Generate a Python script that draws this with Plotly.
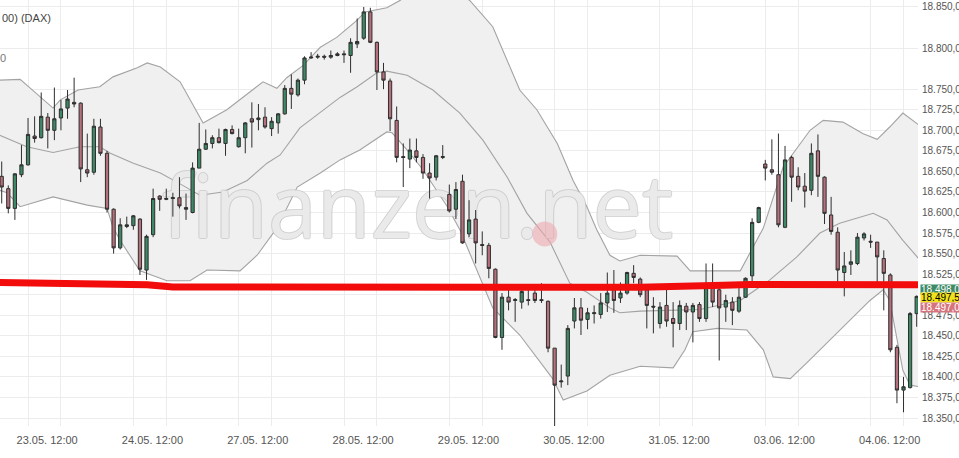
import plotly.graph_objects as go

# ---------------- data ----------------
candle_idx = list(range(140))
opens = [18644, 18629, 18605, 18646, 18658, 18693, 18691, 18716, 18700, 18715,
         18727, 18734, 18733, 18652, 18649, 18704, 18672, 18604, 18557, 18583,
         18584, 18592, 18530, 18573, 18620, 18616, 18617, 18618, 18606, 18600,
         18654, 18677, 18684, 18691, 18684, 18701, 18680, 18691, 18714, 18713,
         18716, 18702, 18709, 18720, 18751, 18743, 18761, 18788, 18789, 18790,
         18789, 18791, 18793, 18791, 18805, 18812, 18844, 18807, 18771, 18760,
         18712, 18668, 18665, 18675, 18667, 18648, 18643, 18667, 18622, 18604,
         18638, 18574, 18592, 18561, 18560, 18531, 18448, 18497, 18493, 18491,
         18494, 18502, 18494, 18492, 18435, 18394, 18401, 18468, 18484, 18470,
         18477, 18476, 18490, 18506, 18496, 18502, 18526, 18519, 18506, 18486,
         18465, 18487, 18471, 18465, 18486, 18479, 18488, 18471, 18514, 18506,
         18485, 18491, 18480, 18497, 18523, 18588, 18659, 18652, 18646, 18582,
         18667, 18644, 18632, 18627, 18675, 18643, 18597, 18576, 18527, 18537,
         18538, 18569, 18565, 18564, 18544, 18524, 18436, 18384, 18387, 18477]
highs = [18662, 18633, 18648, 18682, 18715, 18717, 18746, 18721, 18752, 18737,
         18749, 18764, 18734, 18696, 18714, 18714, 18675, 18605, 18593, 18595,
         18597, 18593, 18573, 18629, 18621, 18629, 18624, 18643, 18623, 18661,
         18709, 18701, 18694, 18702, 18702, 18706, 18702, 18710, 18734, 18732,
         18728, 18716, 18721, 18755, 18768, 18763, 18790, 18795, 18793, 18792,
         18797, 18795, 18797, 18812, 18836, 18850, 18849, 18808, 18782, 18763,
         18729, 18684, 18690, 18690, 18671, 18660, 18670, 18682, 18634, 18637,
         18646, 18615, 18603, 18577, 18563, 18532, 18502, 18508, 18496, 18506,
         18506, 18506, 18514, 18493, 18435, 18415, 18463, 18496, 18496, 18484,
         18487, 18502, 18527, 18530, 18515, 18528, 18536, 18521, 18507, 18497,
         18491, 18506, 18491, 18493, 18490, 18490, 18491, 18538, 18538, 18508,
         18500, 18497, 18508, 18521, 18593, 18607, 18664, 18689, 18696, 18681,
         18669, 18655, 18648, 18684, 18695, 18644, 18619, 18582, 18552, 18554,
         18575, 18576, 18573, 18564, 18554, 18526, 18439, 18400, 18479, 18499]
lows = [18611, 18599, 18591, 18643, 18657, 18685, 18690, 18678, 18688, 18700,
        18714, 18728, 18637, 18643, 18646, 18669, 18600, 18550, 18555, 18581,
        18579, 18524, 18518, 18570, 18602, 18615, 18595, 18605, 18591, 18599,
        18654, 18676, 18678, 18684, 18669, 18695, 18679, 18672, 18679, 18700,
        18702, 18693, 18696, 18719, 18726, 18741, 18756, 18787, 18787, 18786,
        18787, 18790, 18782, 18770, 18800, 18810, 18806, 18749, 18750, 18699,
        18661, 18631, 18654, 18661, 18641, 18617, 18639, 18665, 18600, 18592,
        18562, 18570, 18538, 18548, 18520, 18447, 18433, 18481, 18467, 18483,
        18487, 18490, 18490, 18430, 18338, 18387, 18390, 18459, 18451, 18458,
        18465, 18471, 18479, 18478, 18490, 18500, 18514, 18497, 18459, 18453,
        18459, 18461, 18436, 18457, 18457, 18442, 18467, 18467, 18485, 18420,
        18467, 18463, 18478, 18496, 18515, 18587, 18639, 18646, 18582, 18581,
        18613, 18627, 18606, 18621, 18619, 18586, 18573, 18515, 18498, 18524,
        18536, 18566, 18557, 18514, 18481, 18430, 18368, 18357, 18386, 18461]
closes = [18631, 18605, 18647, 18658, 18695, 18690, 18717, 18700, 18714, 18726,
          18738, 18732, 18653, 18648, 18705, 18672, 18604, 18557, 18585, 18585,
          18596, 18531, 18571, 18617, 18616, 18617, 18618, 18608, 18604, 18654,
          18677, 18684, 18691, 18685, 18701, 18696, 18691, 18709, 18710, 18715,
          18704, 18711, 18720, 18751, 18744, 18761, 18788, 18789, 18790, 18789,
          18791, 18793, 18792, 18807, 18808, 18844, 18807, 18771, 18761, 18714,
          18667, 18667, 18676, 18667, 18648, 18642, 18669, 18668, 18602, 18628,
          18563, 18591, 18563, 18560, 18532, 18448, 18497, 18491, 18494, 18504,
          18493, 18493, 18493, 18435, 18390, 18395, 18459, 18484, 18469, 18478,
          18478, 18490, 18502, 18493, 18502, 18527, 18521, 18500, 18487, 18485,
          18485, 18468, 18465, 18487, 18479, 18487, 18471, 18510, 18491, 18484,
          18493, 18481, 18497, 18520, 18588, 18606, 18654, 18649, 18585, 18664,
          18643, 18631, 18626, 18672, 18644, 18599, 18577, 18530, 18535, 18540,
          18570, 18574, 18564, 18546, 18526, 18433, 18384, 18388, 18477, 18498]

# Bollinger bands (x in candle index units)
upper_x = [-0.3, 2.8, 7.8, 8.9, 11.6, 14.9, 16.9, 20.6, 22.1, 24.1, 27.1, 30.6, 34.2,
           39.7, 41.8, 43.3, 45.8, 48.4, 50.9, 54.0, 55.2, 58.5, 60.5, 63.5, 68.1,
           71.1, 74.6, 78.7, 81.3, 84.4, 86.8, 88.9, 90.4, 92.4, 93.9, 97.0, 102.6,
           104.6, 112.2, 114.1, 115.7, 118.7, 122.8, 124.8, 127.8, 130.8, 133.0,
           134.9, 136.9, 139.4]
upper_y = [18761, 18762, 18727, 18737, 18749, 18753, 18765, 18776, 18782, 18777,
           18759, 18709, 18725, 18759, 18751, 18764, 18779, 18801, 18813, 18834,
           18844, 18849, 18858, 18873, 18873, 18858, 18826, 18749, 18725, 18684,
           18639, 18607, 18579, 18548, 18541, 18548, 18547, 18529, 18529, 18557,
           18581, 18655, 18700, 18712, 18710, 18696, 18689, 18704, 18721, 18706]
mid_x = [-0.3, 3.8, 7.8, 11.9, 14.9, 16.5, 20.0, 24.1, 27.5, 30.1, 33.6, 37.3, 40.3,
         42.3, 45.3, 48.4, 51.4, 54.0, 57.0, 58.5, 61.6, 65.5, 69.6, 73.1, 76.8,
         79.8, 81.8, 83.3, 86.3, 88.9, 92.4, 93.9, 97.0, 106.1, 112.2, 116.7, 120.8,
         124.3, 127.3, 132.4, 134.5, 136.9, 139.4]
mid_y = [18694, 18680, 18673, 18680, 18680, 18672, 18660, 18648, 18633, 18621,
         18625, 18639, 18660, 18670, 18703, 18722, 18740, 18753, 18770, 18772,
         18767, 18749, 18721, 18688, 18643, 18599, 18579, 18564, 18514, 18503,
         18484, 18478, 18480, 18482, 18493, 18518, 18546, 18575, 18587, 18599,
         18591, 18566, 18543]
lower_x = [-0.3, 0.8, 2.8, 7.8, 13.0, 16.0, 16.9, 18.0, 21.0, 25.1, 28.6, 31.2, 36.2,
           38.8, 41.8, 44.9, 48.4, 51.4, 54.4, 58.5, 59.3, 61.6, 64.0, 67.7, 69.6,
           72.2, 74.6, 78.7, 81.8, 83.7, 85.3, 88.9, 92.4, 97.0, 102.0, 103.8, 105.0,
           108.7, 113.2, 115.7, 117.2, 119.8, 122.3, 125.8, 129.3, 131.9, 133.9,
           134.9, 136.9, 138.0, 139.4]
lower_y = [18627, 18624, 18607, 18619, 18609, 18605, 18582, 18566, 18529, 18517,
           18517, 18530, 18529, 18548, 18581, 18631, 18648, 18664, 18676, 18698,
           18697, 18676, 18652, 18607, 18579, 18529, 18484, 18451, 18419, 18398,
           18372, 18383, 18402, 18413, 18411, 18433, 18455, 18459, 18457, 18433,
           18400, 18398, 18417, 18445, 18473, 18493, 18506, 18493, 18408, 18390,
           18388]

# hand-drawn red marker line
red_x = [-0.5, 10.8, 22.1, 26.0, 48.4, 81.8, 97.0, 109.6, 113.7, 139.5]
red_y = [18515, 18514, 18512, 18509.5, 18509, 18508, 18509, 18511.5, 18512.4, 18512.2]

x_tick_pos = [6.9, 22.9, 38.9, 54.9, 70.9, 86.9, 102.9, 118.9, 134.9]
x_tick_text = ["23.05. 12:00", "24.05. 12:00", "27.05. 12:00", "28.05. 12:00",
               "29.05. 12:00", "30.05. 12:00", "31.05. 12:00", "03.06. 12:00",
               "04.06. 12:00"]
x_grid_pos = [4, 9, 20, 25, 36, 41, 52, 57, 68, 73, 84, 89, 100, 105, 116, 121, 132, 137]

y_tick_vals = [18850, 18800, 18750, 18725, 18700, 18675, 18650, 18625, 18600, 18575,
               18550, 18525, 18500, 18475, 18450, 18425, 18400, 18375, 18350]
y_tick_text = ["18.850,00", "18.800,00", "18.750,00", "18.725,00", "18.700,00",
               "18.675,00", "18.650,00", "18.625,00", "18.600,00", "18.575,00",
               "18.550,00", "18.525,00", "", "18.475,00", "18.450,00", "18.425,00",
               "18.400,00", "18.375,00", "18.350,00"]

price_labels = ["18.498,00", "18.497,50", "18.497,00"]
price_values = [18498, 18497.5, 18497]

# ---------------- figure ----------------
fig = go.Figure()

# band fill + lines (main subplot, drawn underneath)
fig.add_trace(go.Scatter(x=lower_x, y=lower_y, mode="lines",
                         line=dict(color="#a3a3a3", width=1.1), hoverinfo="skip",
                         showlegend=False))
fig.add_trace(go.Scatter(x=upper_x, y=upper_y, mode="lines", fill="tonexty",
                         fillcolor="#f0f0f0", line=dict(color="#a3a3a3", width=1.1),
                         hoverinfo="skip", showlegend=False))
fig.add_trace(go.Scatter(x=mid_x, y=mid_y, mode="lines",
                         line=dict(color="#a3a3a3", width=1.1), hoverinfo="skip",
                         showlegend=False))

# watermark
fig.add_trace(go.Scatter(
    x=[63.2], y=[18596], mode="text", text=["finanzen.net"],
    textposition="middle center",
    textfont=dict(family="Open Sans", size=88, color="rgba(255,255,255,0.65)",
                  shadow="1px 0 0 #c2c2c2, -1px 0 0 #c2c2c2, 0 1px 0 #c2c2c2, 0 -1px 0 #c2c2c2"),
    hoverinfo="skip", showlegend=False))
fig.add_trace(go.Scatter(x=[82.5], y=[18574], mode="markers",
                         marker=dict(size=25, color="rgba(236,170,176,0.6)"),
                         hoverinfo="skip", showlegend=False))

# candles (overlay subplot, drawn on top of the bands)
fig.add_trace(go.Candlestick(
    x=candle_idx, open=opens, high=highs, low=lows, close=closes, xaxis="x2",
    increasing=dict(line=dict(color="#2e2e2e", width=1), fillcolor="#3d8865"),
    decreasing=dict(line=dict(color="#2e2e2e", width=1), fillcolor="#b5707b"),
    whiskerwidth=0, hoverinfo="skip", showlegend=False))

# red marker line
fig.add_trace(go.Scatter(x=red_x, y=red_y, mode="lines", xaxis="x2",
                         line=dict(color="#f20c0c", width=7), hoverinfo="skip",
                         showlegend=False))

annotations = [
    dict(text="00) (DAX)", xref="paper", yref="paper", x=0, y=1, xanchor="left",
         yanchor="top", yshift=-10, showarrow=False,
         font=dict(family="Liberation Sans", size=11, color="#444")),
    dict(text="0", xref="paper", yref="paper", x=0, y=1, xanchor="left",
         yanchor="top", yshift=-50, xshift=-2, showarrow=False,
         font=dict(family="Liberation Sans", size=11, color="#777")),
]
box_cols = ["#3f8a66", "#f2e21a", "#d6747e"]
txt_cols = ["white", "black", "white"]
shifts = [7, -1, -10]
for lab, val, bc, tc, sh in zip(price_labels, price_values, box_cols, txt_cols, shifts):
    annotations.append(dict(text=lab, xref="paper", yref="y", x=1, y=val,
                            xanchor="left", yanchor="middle", xshift=2, yshift=sh,
                            showarrow=False, bgcolor=bc, borderpad=0, height=9,
                            width=48, align="left",
                            font=dict(family="Liberation Sans", size=10, color=tc)))

fig.update_layout(
    width=959, height=458,
    margin=dict(l=0, r=41, t=0, b=32),
    paper_bgcolor="white", plot_bgcolor="white",
    hovermode=False, showlegend=False,
    xaxis=dict(range=[-0.26, 139.2], tickmode="array", tickvals=x_grid_pos,
               showticklabels=False, showgrid=True, gridcolor="#ececec",
               gridwidth=1, zeroline=False, ticks="", automargin=False,
               rangeslider=dict(visible=False)),
    xaxis2=dict(range=[-0.26, 139.2], overlaying="x", side="bottom",
                tickmode="array", tickvals=x_tick_pos, ticktext=x_tick_text,
                showgrid=False, zeroline=False, ticks="", automargin=False,
                ticklabelstandoff=6, rangeslider=dict(visible=False),
                tickfont=dict(family="Liberation Sans", size=11, color="#555")),
    yaxis=dict(range=[18340.3, 18858.5], side="right", tickmode="array",
               tickvals=y_tick_vals, ticktext=y_tick_text, showgrid=True,
               gridcolor="#ececec", gridwidth=1, zeroline=False, ticks="",
               ticklabelstandoff=3, automargin=False,
               tickfont=dict(family="Liberation Sans", size=10, color="#555")),
    annotations=annotations,
)

fig.write_html("out.html", config={"displayModeBar": False},
               post_script="document.body.style.margin='0';document.body.style.overflow='hidden';")
